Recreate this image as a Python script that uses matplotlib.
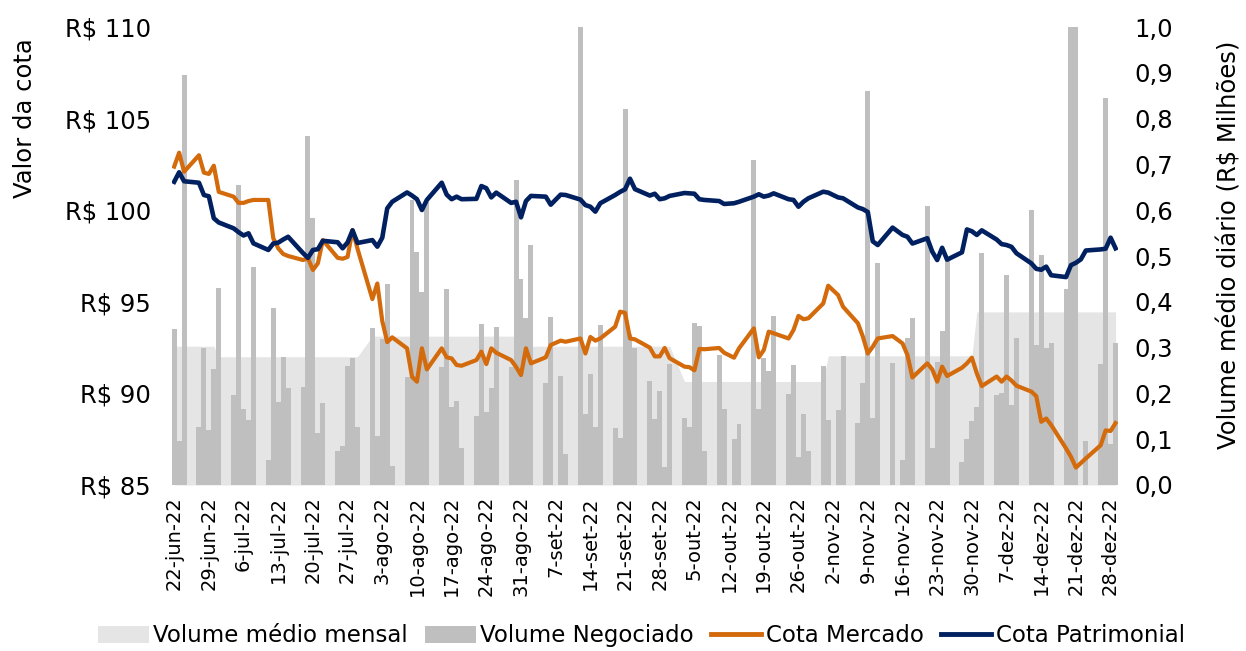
import numpy as np
import pandas as pd
import matplotlib
matplotlib.use("Agg")
import matplotlib.pyplot as plt
from matplotlib.patches import Patch
from matplotlib.lines import Line2D

# pregões de 22-jun-22 a 29-dez-22 (sem feriados da B3)
feriados = ["2022-09-07", "2022-10-12", "2022-11-02", "2022-11-15"]
dias = pd.bdate_range("2022-06-22", "2022-12-29")
dias = dias[~dias.isin(pd.to_datetime(feriados))]

# volume negociado diário (R$ milhões), por mês
vol_jun = [0.34, 0.095, 0.895, 0.126, 0.30, 0.119, 0.253]
vol_jul = [0.43, 0.196, 0.656, 0.166, 0.142, 0.476, 0.055, 0.387, 0.182, 0.28, 0.212,
           0.215, 0.762, 0.584, 0.113, 0.179, 0.074, 0.085, 0.26, 0.278, 0.127]
vol_ago = [0.343, 0.107, 0.319, 0.439, 0.042, 0.236, 0.622, 0.508, 0.422, 0.619, 0.258, 0.428,
           0.17, 0.184, 0.081, 0.151, 0.351, 0.16, 0.211, 0.346, 0.258, 0.667, 0.45]
vol_set = [0.364, 0.525, 0.223, 0.366, 0.238, 0.068, 1.15, 0.156, 0.242, 0.126, 0.349,
           0.124, 0.102, 0.822, 0.33, 0.30, 0.226, 0.144, 0.206, 0.04, 0.264]
vol_out = [0.147, 0.127, 0.353, 0.347, 0.074, 0.284, 0.167, 0.1, 0.133, 0.71,
           0.167, 0.277, 0.25, 0.369, 0.199, 0.262, 0.062, 0.155, 0.075, 0.26]
vol_nov = [0.142, 0.164, 0.282, 0.135, 0.223, 0.86, 0.147, 0.484, 0.266, 0.055,
           0.322, 0.365, 0.61, 0.081, 0.269, 0.337, 0.493, 0.05, 0.10, 0.14]
vol_dez = [0.17, 0.506, 0.196, 0.20, 0.459, 0.175, 0.322, 0.60, 0.306, 0.502, 0.30,
           0.31, 0.427, 1.05, 1.05, 0.0, 0.097, 0.264, 0.846, 0.09, 0.309]

# volume médio mensal
meses = [6, 7, 8, 9, 10, 11, 12]
media_mensal = [0.303, 0.28, 0.325, 0.303, 0.226, 0.282, 0.378]

# cota mercado (R$)
merc_jun = [102.38, 103.14, 102.1, 103.0, 102.05, 101.98, 102.43]
merc_jul = [101.0, 100.74, 100.4, 100.4, 100.5, 100.56, 100.56, 98.47, 97.92, 97.61, 97.5,
            97.28, 97.37, 96.74, 97.1, 98.37, 97.4, 97.35, 97.45, 98.92, 97.9]
merc_ago = [95.15, 96.0, 93.95, 92.8, 93.06, 92.46, 90.91, 90.64, 92.46, 91.31, 92.46, 91.97,
            91.91, 91.55, 91.51, 91.82, 92.28, 91.6, 92.46, 92.22, 91.82, 91.45, 91.0]
merc_set = [92.46, 91.64, 91.97, 92.64, 92.88, 92.82, 93.0, 92.18, 93.08, 92.88, 93.0,
            93.64, 94.46, 94.4, 93.0, 92.95, 92.5, 92.02, 92.02, 92.48, 91.92]
merc_out = [91.46, 91.43, 91.26, 92.43, 92.41, 92.48, 92.22, 91.95, 92.46, 93.55,
            91.97, 92.37, 93.37, 93.28, 93.0, 93.46, 94.23, 94.05, 94.1, 94.91]
merc_nov = [95.88, 95.37, 94.73, 93.83, 93.1, 92.18, 92.55, 93.0, 93.13, 92.73,
            92.09, 90.87, 91.64, 91.31, 90.64, 91.46, 90.95, 91.4, 91.64, 91.95]
merc_dez = [91.09, 90.4, 90.92, 90.64, 90.92, 90.7, 90.42, 90.1, 89.85, 88.45, 88.63,
            88.28, 87.0, 86.54, 85.95, 86.2, 86.45, 87.17, 87.98, 87.95, 88.38]

# cota patrimonial (R$)
patr_jun = [101.55, 102.07, 101.58, 101.5, 100.83, 100.76, 99.56]
patr_jul = [99.33, 99.01, 98.8, 98.62, 98.74, 98.19, 97.83, 98.18, 98.23, 98.4, 98.55,
            97.66, 97.4, 97.83, 97.87, 98.33, 98.25, 97.92, 98.24, 98.9, 98.21]
patr_ago = [98.37, 98.01, 98.5, 100.1, 100.46, 100.97, 100.8, 100.6, 100.01, 100.56, 101.5, 100.85,
            100.6, 100.74, 100.6, 100.62, 101.32, 101.2, 100.7, 100.96, 100.4, 100.46, 99.61]
patr_set = [100.5, 100.78, 100.74, 100.3, 100.85, 100.83, 100.58, 100.28, 100.19, 99.92, 100.38,
            100.83, 101.0, 101.14, 101.72, 101.15, 100.8, 100.9, 100.6, 100.65, 100.78]
patr_out = [100.94, 100.92, 100.9, 100.6, 100.56, 100.5, 100.34, 100.38, 100.46, 100.74,
            100.87, 100.74, 100.8, 100.92, 100.6, 100.56, 100.19, 100.46, 100.65, 101.01]
patr_nov = [100.96, 100.7, 100.65, 100.15, 100.06, 99.9, 98.3, 98.1, 99.05, 98.65,
            98.55, 98.18, 98.47, 97.74, 97.28, 97.95, 97.3, 97.7, 98.95, 98.85]
patr_dez = [98.65, 98.9, 98.4, 98.15, 98.1, 98.0, 97.65, 97.1, 96.8, 96.75, 96.92,
            96.45, 96.35, 97.0, 97.13, 97.32, 97.8, 97.86, 97.9, 98.5, 97.92]

rotulos_x = ["22-jun-22", "29-jun-22", "6-jul-22", "13-jul-22", "20-jul-22", "27-jul-22",
             "3-ago-22", "10-ago-22", "17-ago-22", "24-ago-22", "31-ago-22", "7-set-22",
             "14-set-22", "21-set-22", "28-set-22", "5-out-22", "12-out-22", "19-out-22",
             "26-out-22", "2-nov-22", "9-nov-22", "16-nov-22", "23-nov-22", "30-nov-22",
             "7-dez-22", "14-dez-22", "21-dez-22", "28-dez-22"]
ticks_x = pd.date_range("2022-06-22", "2022-12-28", freq="7D")

volume = np.array(vol_jun + vol_jul + vol_ago + vol_set + vol_out + vol_nov + vol_dez)
mercado = np.array(merc_jun + merc_jul + merc_ago + merc_set + merc_out + merc_nov + merc_dez)
patrimonial = np.array(patr_jun + patr_jul + patr_ago + patr_set + patr_out + patr_nov + patr_dez)
media = pd.Series(dict(zip(meses, media_mensal)))[dias.month].values

LARANJA = "#D36A0B"
AZUL = "#002060"
CINZA_CLARO = "#E5E5E5"
CINZA = "#BFBFBF"

fig = plt.figure(figsize=(12.46, 6.51), dpi=100)
ax = fig.add_axes([0.1378, 0.255, 0.7595, 0.7035])
ax_vol = ax.twinx()
ax.set_zorder(ax_vol.get_zorder() + 1)
ax.patch.set_visible(False)

ax_vol.fill_between(dias, media, 0, color=CINZA_CLARO, lw=0)
ax_vol.bar(dias, volume, width=1.0, color=CINZA, lw=0)
ax_vol.set_ylim(0, 1.0)
ax_vol.set_yticks(np.arange(0, 1.01, 0.1))
ax_vol.set_yticklabels([f"{v:.1f}".replace(".", ",") for v in np.arange(0, 1.01, 0.1)])

ax.plot(dias, mercado, color=LARANJA, lw=3.0, solid_joinstyle="round")
ax.plot(dias, patrimonial, color=AZUL, lw=3.3, solid_joinstyle="round")
ax.set_ylim(85, 110)
ax.set_yticks(range(85, 111, 5))
ax.set_yticklabels([f"R$ {v}" for v in range(85, 111, 5)])

ax.set_xlim(dias[0] - pd.Timedelta(hours=12), dias[-1] + pd.Timedelta(hours=12))
ax.set_xticks(ticks_x)
ax.set_xticklabels(rotulos_x, rotation=90, fontsize=14)

for a in (ax, ax_vol):
    for s in a.spines.values():
        s.set_visible(False)
ax.tick_params(axis="y", length=0, labelsize=17.5, pad=15)
ax.tick_params(axis="x", length=0, pad=8)
ax_vol.tick_params(axis="y", length=0, labelsize=17.5, pad=12)

fig.text(25 / 1246, 1 - 118 / 651, "Valor da cota", rotation=90, ha="center", va="center",
         fontsize=17.5)
fig.text(1230 / 1246, 1 - 245 / 651, "Volume médio diário (R$ Milhões)", rotation=90,
         ha="center", va="center", fontsize=17.5)

handles = [Patch(facecolor=CINZA_CLARO), Patch(facecolor=CINZA),
           Line2D([], [], color=LARANJA, lw=3.5), Line2D([], [], color=AZUL, lw=3.5)]
labels = ["Volume médio mensal", "Volume Negociado", "Cota Mercado", "Cota Patrimonial"]
fig.legend(handles, labels, loc="lower center", bbox_to_anchor=(0.515, -0.012), ncol=4,
           frameon=False, fontsize=16.5, handlelength=2.2, handleheight=0.8,
           handletextpad=0.2, columnspacing=0.75, borderaxespad=0.1)

fig.savefig("out.png", dpi=100)
